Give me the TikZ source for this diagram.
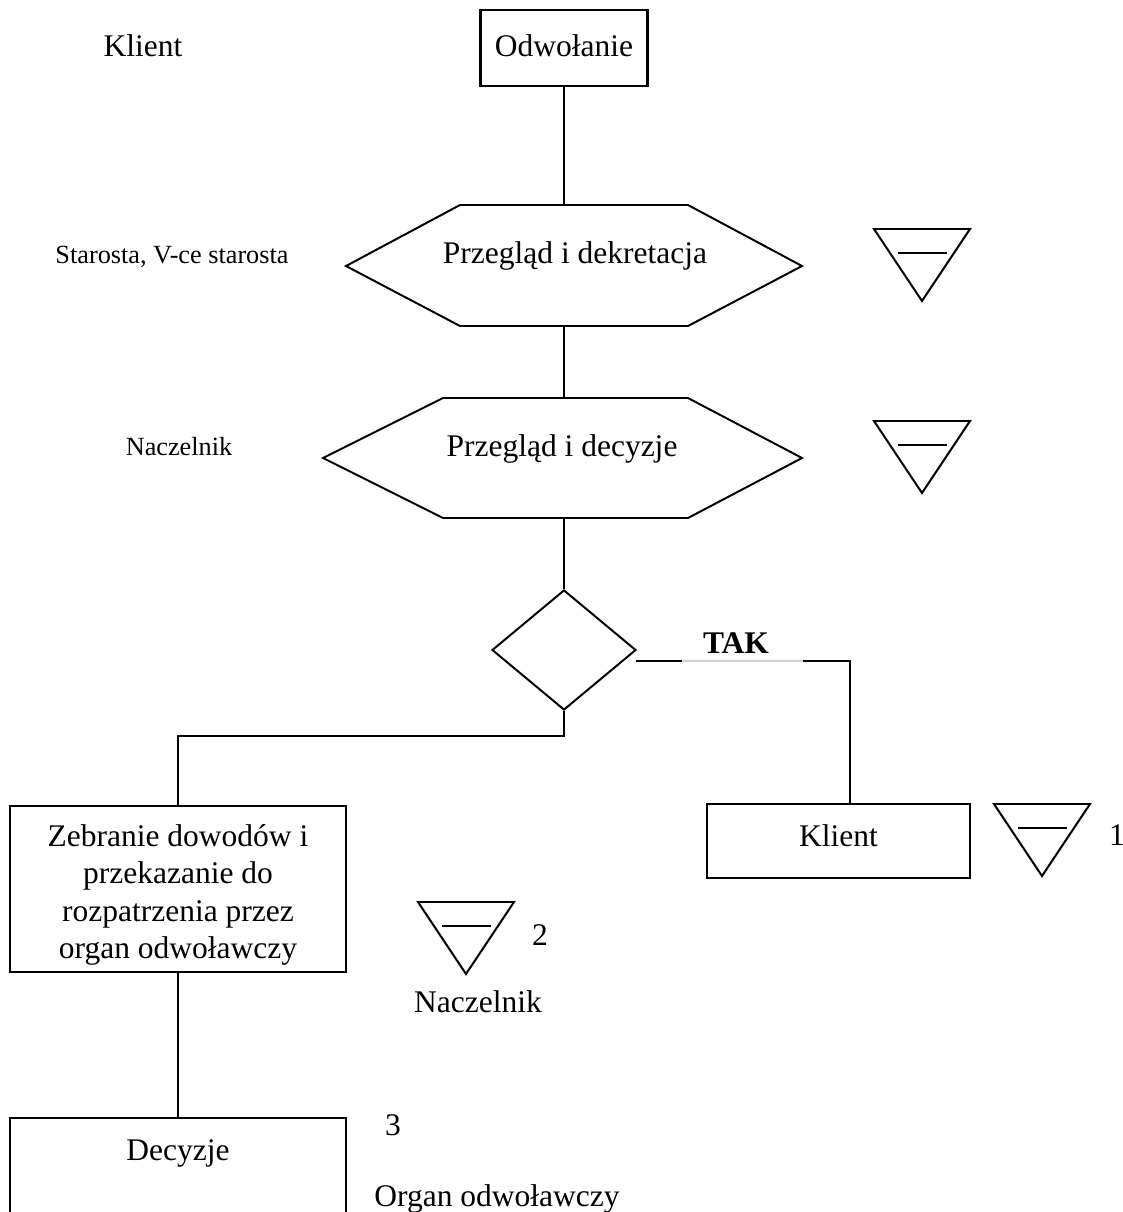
\documentclass[tikz,border=0pt]{standalone}
\usepackage{fontspec}
\setmainfont{Liberation Serif}
\usetikzlibrary{shapes.geometric}
\newdimen\pxu \pxu=0.38095pt
\tikzset{
  big/.style={font=\fontsize{12}{14.3}\selectfont},
  small/.style={font=\fontsize{10}{12}\selectfont},
  box/.style={draw, line width=0.85pt, inner sep=0pt, big, align=center},
  conn/.style={line width=0.75pt},
  shapeline/.style={line width=0.75pt, line join=miter},
  lbl/.style={big, anchor=base, inner sep=0pt},
  slbl/.style={small, anchor=base, inner sep=0pt},
  inspect/.pic={
    \draw[shapeline] (0,0) -- (96,0) -- (48,72) -- cycle;
    \draw[shapeline] (24,24) -- (73,24);
  }
}
\begin{document}
\begin{tikzpicture}[x=0.38095pt,y=-0.38095pt]
\useasboundingbox (0,0) rectangle (1123,1212);
\clip (0,0) rectangle (1123,1212);

% left-side role labels
\node[lbl] (kl0) at (143,56) {Klient};
\node[slbl] (star) at (172,263) {Starosta, V-ce starosta};
\node[slbl] (nacz0) at (179,455) {Naczelnik};

% top box
\node[box, minimum width=167*\pxu, minimum height=76*\pxu] (odw) at (564,48) {};
\node[lbl] (odwt) at (564,56) {Odwołanie};

% hexagon 1
\draw[shapeline] (346,266) -- (460,205) -- (688,205) -- (802,266) -- (688,326) -- (460,326) -- cycle;
\coordinate (h1n) at (564,205);
\coordinate (h1s) at (564,326);
\node[lbl] (h1t) at (575,263) {Przegląd i dekretacja};

% hexagon 2
\draw[shapeline] (323,458) -- (443,398) -- (688,398) -- (802,458) -- (688,518) -- (443,518) -- cycle;
\coordinate (h2n) at (564,398);
\coordinate (h2s) at (564,518);
\node[lbl] (h2t) at (562,456) {Przegląd i decyzje};

% diamond
\node[draw, diamond, shapeline, inner sep=0pt, aspect=1.2,
      minimum width=144*\pxu, minimum height=120*\pxu] (dia) at (564,650) {};

% boxes
\node[box, minimum width=263*\pxu, minimum height=74*\pxu] (kl) at (838.5,841) {};
\node[lbl] (klt) at (838.5,846) {Klient};
\node[box, minimum width=336*\pxu, minimum height=166*\pxu] (zeb) at (178,889) {};
\node[big, align=center, inner sep=0pt] (zebt) at (178,895)
  {Zebranie dowodów i\\przekazanie do\\rozpatrzenia przez\\organ odwoławczy};
\node[box, minimum width=336*\pxu, minimum height=135*\pxu, anchor=north] (dec) at (178,1117) {};
\node[lbl] (dect) at (178,1160) {Decyzje};

% inspection triangles
\pic at (874,229) {inspect};
\pic at (874,421) {inspect};
\pic at (994,804) {inspect};
\pic at (418,902) {inspect};

% numbers and other labels
\node[lbl] (n1) at (1117,845) {1};
\node[lbl] (n2) at (540,945) {2};
\node[lbl] (nacz) at (478,1012) {Naczelnik};
\node[lbl] (n3) at (393,1135) {3};
\node[lbl] (org) at (497,1206) {Organ odwoławczy};
\node[lbl, font=\fontsize{12}{14}\selectfont\bfseries] (tak) at (736,653) {TAK};

% connectors
\draw[conn] (odw.south) -- (h1n);
\draw[conn] (h1s) -- (h2n);
\draw[conn] (h2s) -- (dia.north);
\draw[conn] (dia.south) -- ++(0,25) -| (zeb.north);
\draw[conn] (zeb.south) -- (dec.north);

\coordinate (t0) at (636,661);
\coordinate (t1) at (682,661);
\coordinate (t2) at (803,661);
\coordinate (kltop) at (850,804);
\draw[conn] (t0) -- (t1);
\draw[line width=0.4pt, gray!35] (t1) -- (t2);
\draw[conn] (t2) -| (kltop);
\end{tikzpicture}
\end{document}
